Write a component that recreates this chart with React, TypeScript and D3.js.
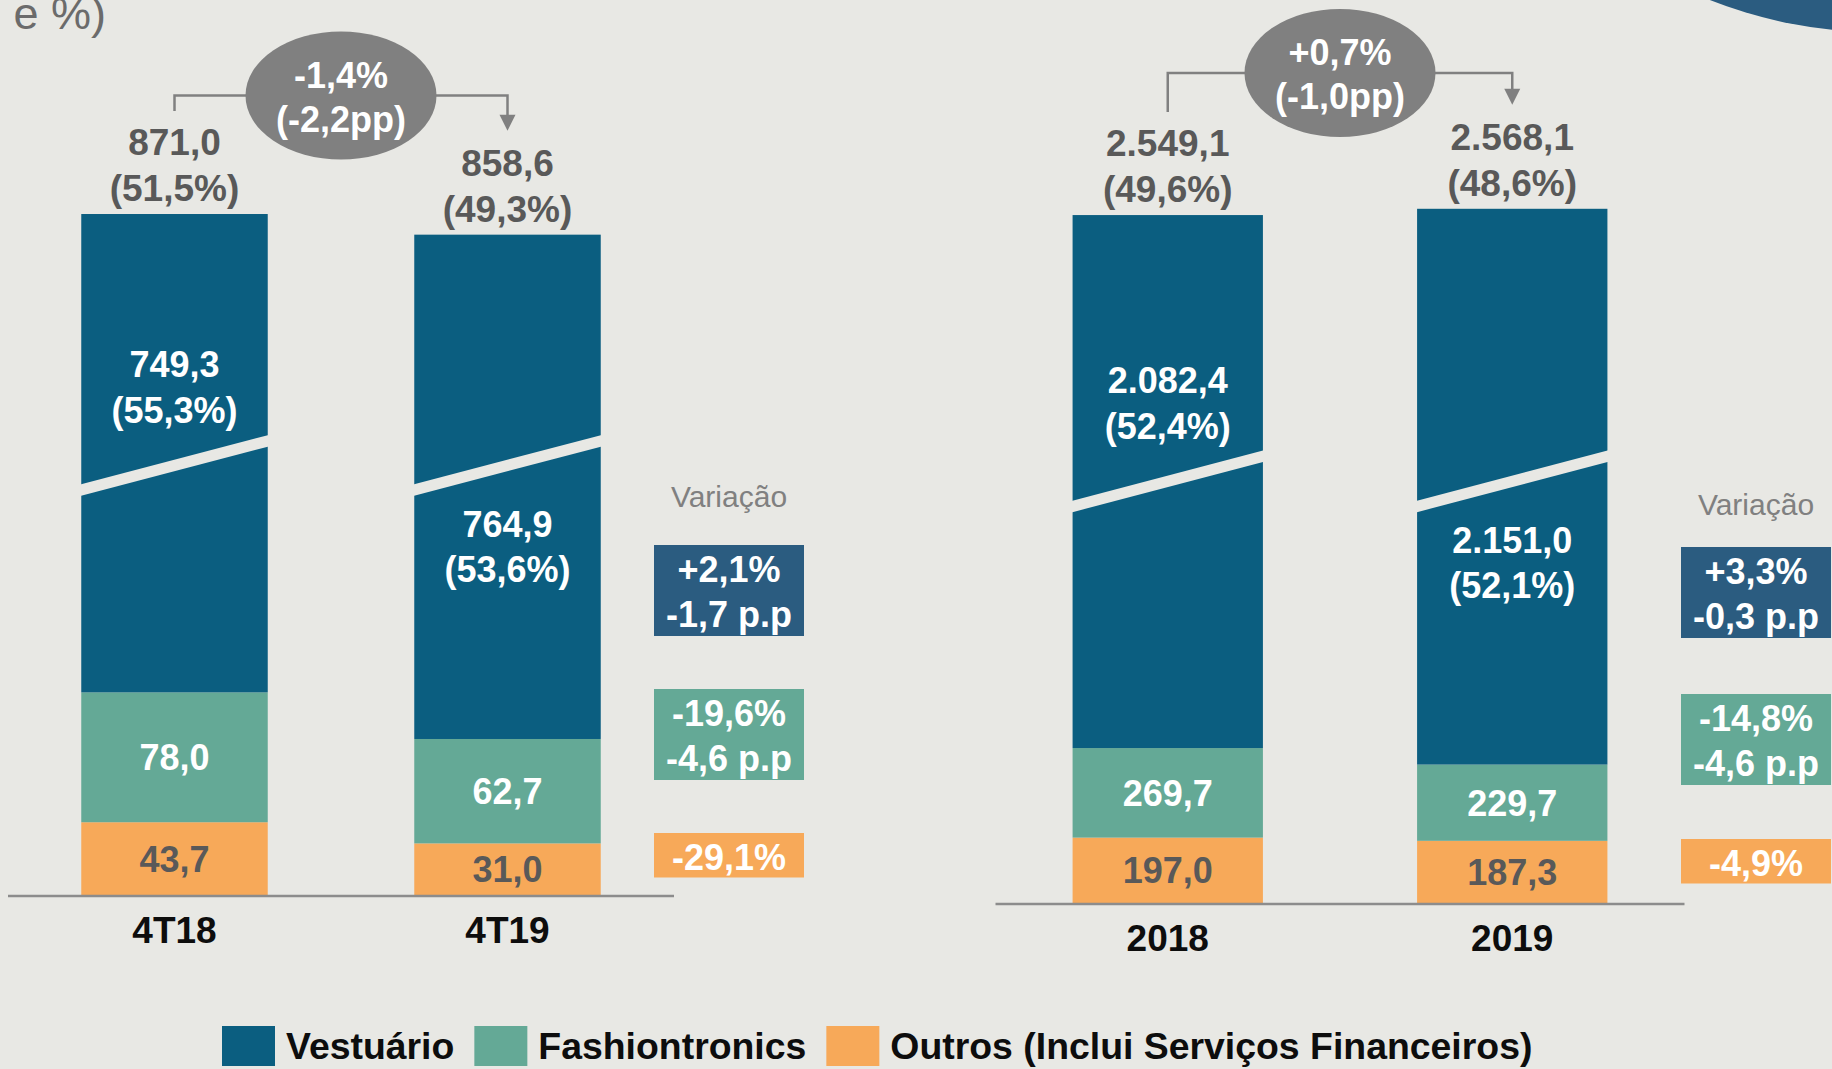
import * as React from "react";
import { useRef, useEffect } from "react";
import * as d3 from "d3";

const W = 1832;
const H = 1069;

const seriesNames = ["Vestuário", "Fashiontronics", "Outros (Inclui Serviços Financeiros)"];
const seriesColors = ["#0b5e80", "#64a996", "#f7a959"];

// trimestre
const quarters = ["4T18", "4T19"];
const quarterVest = [749.3, 764.9];
const quarterFash = [78.0, 62.7];
const quarterOutros = [43.7, 31.0];
const quarterTotal = [871.0, 858.6];
const quarterTotalPct = [51.5, 49.3];
const quarterVestPct = [55.3, 53.6];
const quarterChange = ["-1,4%", "(-2,2pp)"];
const quarterVar = [["+2,1%", "-1,7 p.p"], ["-19,6%", "-4,6 p.p"], ["-29,1%"]];

// ano
const years = ["2018", "2019"];
const yearVest = [2082.4, 2151.0];
const yearFash = [269.7, 229.7];
const yearOutros = [197.0, 187.3];
const yearTotal = [2549.1, 2568.1];
const yearTotalPct = [49.6, 48.6];
const yearVestPct = [52.4, 52.1];
const yearChange = ["+0,7%", "(-1,0pp)"];
const yearVar = [["+3,3%", "-0,3 p.p"], ["-14,8%", "-4,6 p.p"], ["-4,9%"]];

const BG = "#e8e8e4";
const GRAY = "#595959";
const FONT = "'Liberation Sans', Arial, sans-serif";

const ptBR = d3.formatLocale({ decimal: ",", thousands: ".", grouping: [3], currency: ["R$", ""] });
const fmt = ptBR.format(",.1f");

const panels = [
  {
    cats: quarters, vest: quarterVest, fash: quarterFash, outros: quarterOutros,
    total: quarterTotal, totalPct: quarterTotalPct, vestPct: quarterVestPct,
    change: quarterChange, variation: quarterVar,
    x0: 8, x1: 674, base: 895, k: 1.665, breakAt: 258, cut: 462, padInner: 0.44,
    bracketY: 95.5, varX: 654, varTops: [350, 206, 62],
  },
  {
    cats: years, vest: yearVest, fash: yearFash, outros: yearOutros,
    total: yearTotal, totalPct: yearTotalPct, vestPct: yearVestPct,
    change: yearChange, variation: yearVar,
    x0: 995.5, x1: 1684.5, base: 903, k: 0.332, breakAt: 1270, cut: 477, padInner: 0.4475,
    bracketY: 73, varX: 1681, varTops: [356, 209, 64],
  },
];

const Chart = () => {
  const svgRef = useRef<SVGSVGElement>(null);

  useEffect(() => {
    const svg = d3.select(svgRef.current);
    svg.selectAll("*").remove();
    svg.attr("font-family", FONT);

    svg.append("rect").attr("width", W).attr("height", H).attr("fill", BG);

    // cut-off title and corner decoration
    svg.append("text")
      .attr("x", 106).attr("y", 29)
      .attr("text-anchor", "end")
      .attr("font-size", 45)
      .attr("fill", "#6b6b6b")
      .text("(R$ milhões e %)");
    svg.append("circle").attr("cx", 1878).attr("cy", -426).attr("r", 458).attr("fill", "#2b5c80");

    panels.forEach((p) => {
      const rows = p.cats.map((c, i) => ({ cat: c, outros: p.outros[i], fash: p.fash[i], vest: p.vest[i] }));
      const stack = d3.stack<any>().keys(["outros", "fash", "vest"])(rows);

      const x = d3.scaleBand()
        .domain(p.cats)
        .range([p.x0, p.x1])
        .paddingInner(p.padInner)
        .paddingOuter(p.padInner / 2);

      const maxV = d3.max(p.total) as number;
      const yBreak = p.base - p.breakAt * p.k;
      // broken axis: values between breakAt and breakAt+cut collapse to the break line
      const y = d3.scaleLinear()
        .domain([0, p.breakAt, p.breakAt + p.cut, maxV])
        .range([p.base, yBreak, yBreak, p.base - (maxV - p.cut) * p.k]);

      const bw = x.bandwidth();
      const g = svg.append("g");

      // bars
      const colorBy: Record<string, string> = { outros: seriesColors[2], fash: seriesColors[1], vest: seriesColors[0] };
      stack.forEach((layer) => {
        g.append("g")
          .selectAll("rect")
          .data(layer)
          .enter()
          .append("rect")
          .attr("x", (d: any) => x(d.data.cat) as number)
          .attr("y", (d) => y(d[1]))
          .attr("width", bw)
          .attr("height", (d) => y(d[0]) - y(d[1]))
          .attr("fill", colorBy[layer.key]);
      });

      // slanted break band
      const slope = 0.263;
      const t = 11.5;
      g.append("g")
        .selectAll("polygon")
        .data(p.cats)
        .enter()
        .append("polygon")
        .attr("points", (c) => {
          const xa = (x(c) as number) - 2;
          const xb = (x(c) as number) + bw + 2;
          const r = (slope * (xb - xa)) / 2;
          return [
            [xa, yBreak + r - t / 2], [xb, yBreak - r - t / 2],
            [xb, yBreak - r + t / 2], [xa, yBreak + r + t / 2],
          ].map((q) => q.join(",")).join(" ");
        })
        .attr("fill", BG);

      // baseline
      g.append("line")
        .attr("x1", p.x0).attr("x2", p.x1)
        .attr("y1", p.base + 1).attr("y2", p.base + 1)
        .attr("stroke", "#8c8c8c").attr("stroke-width", 2.5);

      // segment labels
      const [sOutros, sFash, sVest] = stack;
      const cx = (i: number) => (x(p.cats[i]) as number) + bw / 2;
      sOutros.forEach((d, i) => {
        g.append("text").attr("x", cx(i)).attr("y", (y(d[0]) + y(d[1])) / 2 + 13)
          .attr("text-anchor", "middle").attr("font-size", 36).attr("font-weight", "bold")
          .attr("fill", GRAY).text(fmt(p.outros[i]));
      });
      sFash.forEach((d, i) => {
        g.append("text").attr("x", cx(i)).attr("y", (y(d[0]) + y(d[1])) / 2 + 13)
          .attr("text-anchor", "middle").attr("font-size", 36).attr("font-weight", "bold")
          .attr("fill", "#fff").text(fmt(p.fash[i]));
      });
      sVest.forEach((d, i) => {
        const yy = i === 0 ? [yBreak - 88, yBreak - 42.5] : [yBreak + 71.5, yBreak + 117];
        const lines = [fmt(p.vest[i]), `(${fmt(p.vestPct[i])}%)`];
        lines.forEach((s, j) => {
          g.append("text").attr("x", cx(i)).attr("y", yy[j])
            .attr("text-anchor", "middle").attr("font-size", 36).attr("font-weight", "bold")
            .attr("fill", "#fff").text(s);
        });
      });

      // totals above bars
      const tops = p.total.map((v) => y(v));
      p.cats.forEach((c, i) => {
        [fmt(p.total[i]), `(${fmt(p.totalPct[i])}%)`].forEach((s, j) => {
          g.append("text").attr("x", cx(i)).attr("y", tops[i] - (j === 0 ? 59 : 13))
            .attr("text-anchor", "middle").attr("font-size", 37).attr("font-weight", "bold")
            .attr("fill", GRAY).text(s);
        });
        g.append("text").attr("x", cx(i)).attr("y", p.base + 48)
          .attr("text-anchor", "middle").attr("font-size", 37).attr("font-weight", "bold")
          .attr("fill", "#0d0d0d").text(c);
      });

      // change bracket with bubble
      const c0 = cx(0);
      const c1 = cx(1);
      const tip = tops[1] - 104;
      g.append("path")
        .attr("d", `M${c0},${tops[0] - 103}V${p.bracketY}H${c1}V${tip - 14}`)
        .attr("fill", "none").attr("stroke", "#808080").attr("stroke-width", 2.5);
      g.append("polygon")
        .attr("points", `${c1 - 8},${tip - 16} ${c1 + 8},${tip - 16} ${c1},${tip}`)
        .attr("fill", "#808080");
      const mid = (c0 + c1) / 2;
      g.append("ellipse").attr("cx", mid).attr("cy", p.bracketY).attr("rx", 95.5).attr("ry", 64).attr("fill", "#808080");
      p.change.forEach((s, j) => {
        g.append("text").attr("x", mid).attr("y", p.bracketY + (j === 0 ? -8 : 36))
          .attr("text-anchor", "middle").attr("font-size", 36).attr("font-weight", "bold")
          .attr("fill", "#fff").text(s);
      });

      // Variação boxes
      const boxW = 150;
      const boxColors = ["#2b5c80", seriesColors[1], seriesColors[2]];
      g.append("text").attr("x", p.varX + boxW / 2).attr("y", p.base - 388)
        .attr("text-anchor", "middle").attr("font-size", 30).attr("fill", "#808080").text("Variação");
      p.variation.forEach((lines, s) => {
        const top = p.base - p.varTops[s];
        const h = lines.length === 2 ? 91 : 44.5;
        g.append("rect").attr("x", p.varX).attr("y", top).attr("width", boxW).attr("height", h).attr("fill", boxColors[s]);
        lines.forEach((txt, j) => {
          g.append("text").attr("x", p.varX + boxW / 2).attr("y", top + 37 + j * 45)
            .attr("text-anchor", "middle").attr("font-size", 36).attr("font-weight", "bold")
            .attr("fill", "#fff").text(txt);
        });
      });
    });

    // legend
    const lg = svg.append("g");
    let lx = 222;
    seriesNames.forEach((name, i) => {
      lg.append("rect").attr("x", lx).attr("y", 1026).attr("width", 53).attr("height", 40).attr("fill", seriesColors[i]);
      const t = lg.append("text").attr("x", lx + 64).attr("y", 1059)
        .attr("font-size", 37.4).attr("font-weight", "bold").attr("fill", "#0d0d0d").text(name);
      const len = (t.node() as SVGTextElement).getComputedTextLength();
      lx = lx + 64 + len + 20;
    });
  }, []);

  return <svg ref={svgRef} width={W} height={H} style={{ position: "absolute", left: 0, top: 0, display: "block" }} />;
};

export default function App() {
  return <Chart />;
}
